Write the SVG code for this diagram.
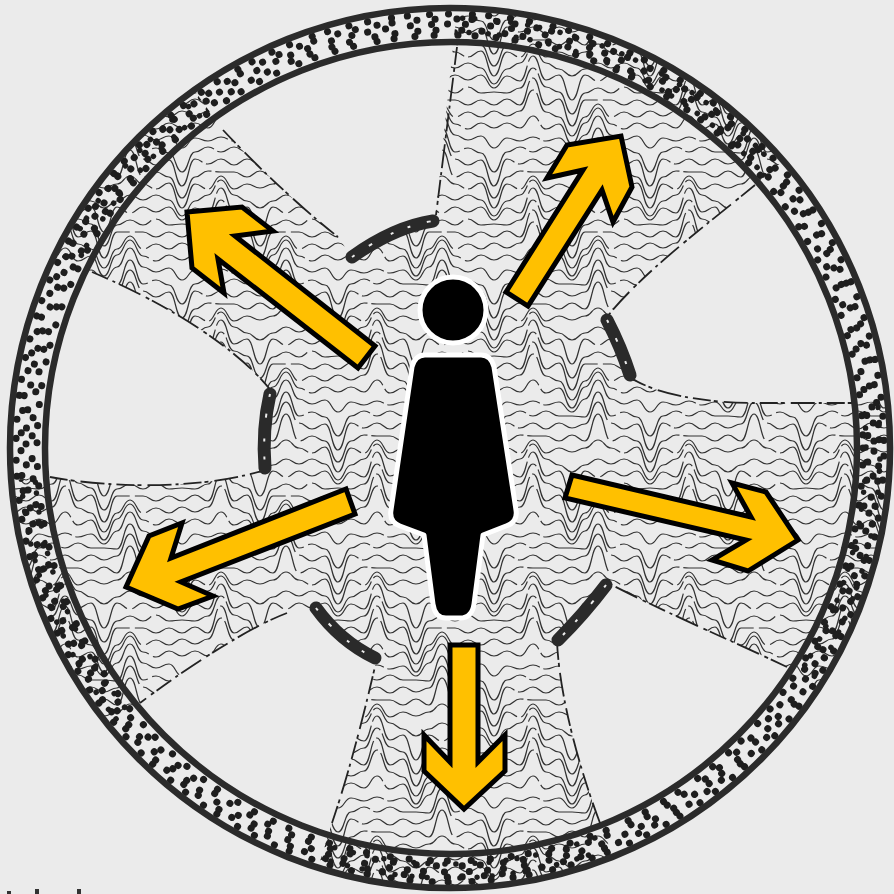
<svg xmlns="http://www.w3.org/2000/svg" width="894" height="894" viewBox="0 0 894 894">
<style>
.ring{fill:none;stroke:#2b2b2b;stroke-width:6.5}
.dot{fill:none;stroke:#1e1e1e;stroke-linecap:round;stroke-width:7}
.dot2{fill:none;stroke:#1e1e1e;stroke-linecap:round;stroke-width:5.5}
.edge{fill:none;stroke:#222;stroke-width:1.8;stroke-dasharray:18 3 4 6 24 4 3 5}
.door{fill:none;stroke:#2a2a2a;stroke-width:13;stroke-linecap:round}
.fleck{fill:none;stroke:#ebebeb;stroke-width:2;stroke-dasharray:3 17 4 21 3 15}
.arrow{fill:#ffc000;stroke:#000;stroke-width:5;stroke-linejoin:miter;stroke-miterlimit:6}
.person{fill:#000;stroke:#fff;stroke-width:5;stroke-linejoin:round}
.w{fill:none;stroke:#333;stroke-width:1.2;stroke-dasharray:84 4 121 5 58 5}
</style>
<defs>
<g id="tile" class="w">
<path d="M0 8C6.5 8 6.5 4 13 4S19.5 16 26 16S32.5 6 39 6S45.5 9 52 9S58.5 5 65 5S71.5 9 78 9S84.5 6 91 6S97.5 16 104 16S110.5 3 117 3S123.5 -16 130 -16S136.5 3 143 3S149.5 8 156 8"/>
<path d="M0 16C6.5 16 6.5 21 13 21S19.5 40 26 40S32.5 20 39 20S45.5 15 52 15S58.5 20 65 20S71.5 15 78 15S84.5 20 91 20S97.5 20 104 20S110.5 21 117 21S123.5 -4 130 -4S136.5 20 143 20S149.5 16 156 16"/>
<path d="M0 33C6.5 33 6.5 28 13 28S19.5 54 26 54S32.5 27 39 27S45.5 32 52 32S58.5 27 65 27S71.5 33 78 33S84.5 27 91 27S97.5 32 104 32S110.5 28 117 28S123.5 6 130 6S136.5 27 143 27S149.5 33 156 33"/>
<path d="M0 40C6.5 40 6.5 45 13 45S19.5 66 26 66S32.5 45 39 45S45.5 39 52 39S58.5 40 65 40S71.5 40 78 40S84.5 45 91 45S97.5 39 104 39S110.5 45 117 45S123.5 18 130 18S136.5 45 143 45S149.5 40 156 40"/>
<path d="M0 57C6.5 57 6.5 51 13 51S19.5 76 26 76S32.5 52 39 52S45.5 57 52 57S58.5 44 65 44S71.5 57 78 57S84.5 52 91 52S97.5 56 104 56S110.5 52 117 52S123.5 44 130 44S136.5 52 143 52S149.5 57 156 57"/>
<path d="M0 63C6.5 63 6.5 68 13 68S19.5 84 26 84S32.5 69 39 69S45.5 63 52 63S58.5 48 65 48S71.5 63 78 63S84.5 69 91 69S97.5 76 104 76S110.5 69 117 69S123.5 63 130 63S136.5 68 143 68S149.5 63 156 63"/>
<path d="M0 80C6.5 80 6.5 75 13 75S19.5 88 26 88S32.5 76 39 76S45.5 81 52 81S58.5 56 65 56S71.5 80 78 80S84.5 75 91 75S97.5 100 104 100S110.5 75 117 75S123.5 81 130 81S136.5 75 143 75S149.5 80 156 80"/>
<path d="M0 87C6.5 87 6.5 93 13 93S19.5 92 26 92S32.5 93 39 93S45.5 88 52 88S58.5 68 65 68S71.5 87 78 87S84.5 92 91 92S97.5 114 104 114S110.5 93 117 93S123.5 88 130 88S136.5 93 143 93S149.5 87 156 87"/>
<path d="M0 105C6.5 105 6.5 100 13 100S19.5 105 26 105S32.5 99 39 99S45.5 105 52 105S58.5 78 65 78S71.5 105 78 105S84.5 99 91 99S97.5 126 104 126S110.5 100 117 100S123.5 100 130 100S136.5 100 143 100S149.5 105 156 105"/>
<path d="M0 112C6.5 112 6.5 117 13 117S19.5 111 26 111S32.5 116 39 116S45.5 111 52 111S58.5 90 65 90S71.5 112 78 112S84.5 117 91 117S97.5 136 104 136S110.5 117 117 117S123.5 104 130 104S136.5 117 143 117S149.5 112 156 112"/>
<path d="M0 129C6.5 129 6.5 123 13 123S19.5 128 26 128S32.5 123 39 123S45.5 128 52 128S58.5 116 65 116S71.5 129 78 129S84.5 124 91 124S97.5 144 104 144S110.5 123 117 123S123.5 108 130 108S136.5 124 143 124S149.5 129 156 129"/>
</g>
<clipPath id="region"><path d="M457 8A440 440 0 0 1 783 161L755 185C700 230 640 275 607 317Q621 347 630 377C650 392 700 403 753 403L857 403L888 400A440 440 0 0 1 819 688L787 667C730 640 660 610 608 583Q584 614 557 642C560 700 580 770 600 823L613 856A440 440 0 0 1 318 868L332 823C350 770 365 710 377 658Q340 641 315 608L287 613C250 627 190 665 140 703L110 728A440 440 0 0 1 11 480L50 477C110 488 200 490 265 470Q262 429 272 392C240 350 170 305 92 272L55 254A440 440 0 0 1 194 90L223 130C265 175 310 215 338 237L352 257Q394 227 435 220Z"/></clipPath>
<pattern id="lines" width="156" height="132" patternUnits="userSpaceOnUse">
<use href="#tile"/><use href="#tile" y="132"/><use href="#tile" y="-132"/>
</pattern>
<filter id="soft" filterUnits="userSpaceOnUse" x="0" y="0" width="894" height="894"><feGaussianBlur stdDeviation="0.3"/></filter>
</defs>
<rect width="894" height="894" fill="#ebebeb"/>
<g id="floor" clip-path="url(#region)">
<rect width="894" height="894" fill="url(#lines)" filter="url(#soft)"/>
<g id="extra-dots">
<circle class="dot2" cx="450" cy="448" r="416" stroke-dasharray="0.1 14 0.1 19 0.1 11 0.1 17"/>
<circle class="dot2" cx="450" cy="448" r="430" stroke-dasharray="0.1 17 0.1 12 0.1 21 0.1 15" stroke-dashoffset="6"/>
</g>
</g>
<g id="wall">
<circle class="dot" cx="450" cy="448" r="413" stroke-dasharray="0.1 17 0.1 21 0.1 19 0.1 24"/>
<circle class="dot" cx="450" cy="448" r="418" stroke-dasharray="0.1 23 0.1 18 0.1 26 0.1 20" stroke-dashoffset="9"/>
<circle class="dot" cx="450" cy="448" r="424" stroke-dasharray="0.1 18 0.1 25 0.1 21 0.1 16" stroke-dashoffset="15"/>
<circle class="dot" cx="450" cy="448" r="429" stroke-dasharray="0.1 22 0.1 15 0.1 25 0.1 18" stroke-dashoffset="4"/>
<circle class="dot" cx="450" cy="448" r="434" stroke-dasharray="0.1 19 0.1 24 0.1 16 0.1 22" stroke-dashoffset="11"/>
<circle class="ring" cx="450" cy="448" r="440"/>
<circle class="ring" cx="451" cy="448" r="406"/>
</g>
<g id="edges">
<path class="edge" d="M457 47L436 215"/>
<path class="edge" d="M755 185C700 230 640 275 607 317"/>
<path class="edge" d="M630 377C650 392 700 403 753 403L857 403"/>
<path class="edge" d="M787 667C730 640 660 610 608 583"/>
<path class="edge" d="M557 642C560 700 580 770 600 823"/>
<path class="edge" d="M332 823C350 770 365 710 377 658"/>
<path class="edge" d="M287 613C250 627 190 665 140 703"/>
<path class="edge" d="M50 477C110 488 200 490 265 470"/>
<path class="edge" d="M272 392C240 350 170 305 92 272"/>
<path class="edge" d="M223 130C265 175 310 215 338 237"/>
</g>
<g id="door-top"><path class="door" d="M352 257Q394 227 433 221"/><path class="fleck" d="M352 257Q394 227 433 221"/></g>
<g id="door-right"><path class="door" d="M607 320Q621 347 630 375"/><path class="fleck" d="M607 320Q621 347 630 375"/></g>
<g id="door-lower-right"><path class="door" d="M606 585Q584 614 558 640"/><path class="fleck" d="M606 585Q584 614 558 640"/></g>
<g id="door-lower-left"><path class="door" d="M316 608Q340 641 375 658"/><path class="fleck" d="M316 608Q340 641 375 658"/></g>
<g id="door-left"><path class="door" d="M270 394Q262 429 265 468"/><path class="fleck" d="M270 394Q262 429 265 468"/></g>
<g id="person">
<circle class="person" cx="453" cy="310" r="33"/>
<path class="person" d="M425 355H481Q491 355 494 367L516 510Q518 522 506 526L483 535L474 604Q472 618 460 618H446Q435 618 433 604L424 535L400 526Q389 522 391 510L412 367Q415 355 425 355Z"/>
</g>
<g id="arrows">
<polygon id="arrow-up-right" class="arrow" points="506,292 583,170 547,178 567,145 621,136 632,187 613,222 602,190 528,306"/>
<polygon id="arrow-up-left" class="arrow" points="187,212 242,207 273,231 235,236 375,346 358,368 218,259 224,293 192,268"/>
<polygon id="arrow-right" class="arrow" points="572,475 751,517 732,483 766,492 798,540 748,571 712,560 746,540 565,498"/>
<polygon id="arrow-down" class="arrow" points="450,645 478,645 478,762 505,735 505,771 464,809 424,771 424,735 450,762"/>
<polygon id="arrow-down-left" class="arrow" points="126,587 149,536 182,523 171,558 346,489 355,514 181,582 213,596 178,609"/>
</g>
<g id="cut-off-marks" fill="#333"><rect x="7" y="891" width="4" height="3"/><rect x="35" y="889" width="4" height="5"/><rect x="77" y="889" width="4" height="5"/></g>
</svg>
